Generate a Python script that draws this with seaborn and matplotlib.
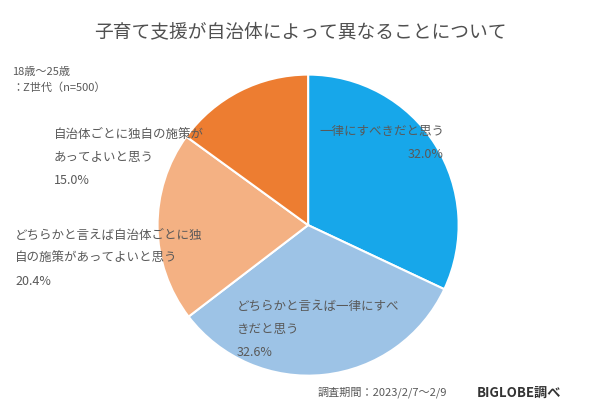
import matplotlib.pyplot as plt
import seaborn as sns

plt.rcParams['font.family'] = 'Noto Sans CJK JP'
sns.set_theme(style='white', font='Noto Sans CJK JP')

labels = ['一律にすべきだと思う', 'どちらかと言えば一律にすべきだと思う',
          'どちらかと言えば自治体ごとに独自の施策があってよいと思う',
          '自治体ごとに独自の施策があってよいと思う']
values = [32.0, 32.6, 20.4, 15.0]
colors = ['#17A7EA', '#9DC3E6', '#F4B183', '#ED7D31']
txt = '#595959'

fig = plt.figure(figsize=(6, 4.2), dpi=100)
ax = fig.add_axes([0.26, 0.102, 0.507, 0.724])
ax.pie(values, colors=colors, startangle=90, counterclock=False,
       wedgeprops=dict(edgecolor='white', linewidth=1.5))
ax.set_aspect('equal')
ax.set_xlim(-1.01, 1.01)
ax.set_ylim(-1.01, 1.01)

fig.text(0.5, 0.925, '子育て支援が自治体によって異なることについて', ha='center', va='center',
         fontsize=13.5, color='#505050')
fig.text(0.02, 0.81, '18歳～25歳\n：Z世代（n=500）', ha='left', va='center', fontsize=8,
         color=txt, linespacing=1.6)

fig.text(0.74, 0.66, '一律にすべきだと思う\n32.0%', ha='right', va='center', fontsize=9,
         color=txt, linespacing=2.0, multialignment='right')
fig.text(0.395, 0.215, 'どちらかと言えば一律にすべ\nきだと思う\n32.6%', ha='left', va='center',
         fontsize=9, color=txt, linespacing=2.0, multialignment='left')
fig.text(0.025, 0.385, 'どちらかと言えば自治体ごとに独\n自の施策があってよいと思う\n20.4%',
         ha='left', va='center', fontsize=9, color=txt, linespacing=2.0)
fig.text(0.09, 0.625, '自治体ごとに独自の施策が\nあってよいと思う\n15.0%',
         ha='left', va='center', fontsize=9, color=txt, linespacing=2.0)

fig.text(0.53, 0.065, '調査期間：2023/2/7～2/9', ha='left', va='center', fontsize=8, color=txt)
fig.text(0.795, 0.065, 'BIGLOBE調べ', ha='left', va='center', fontsize=9.5,
         fontweight='bold', color='#333333')

fig.savefig('out.png', dpi=100)
